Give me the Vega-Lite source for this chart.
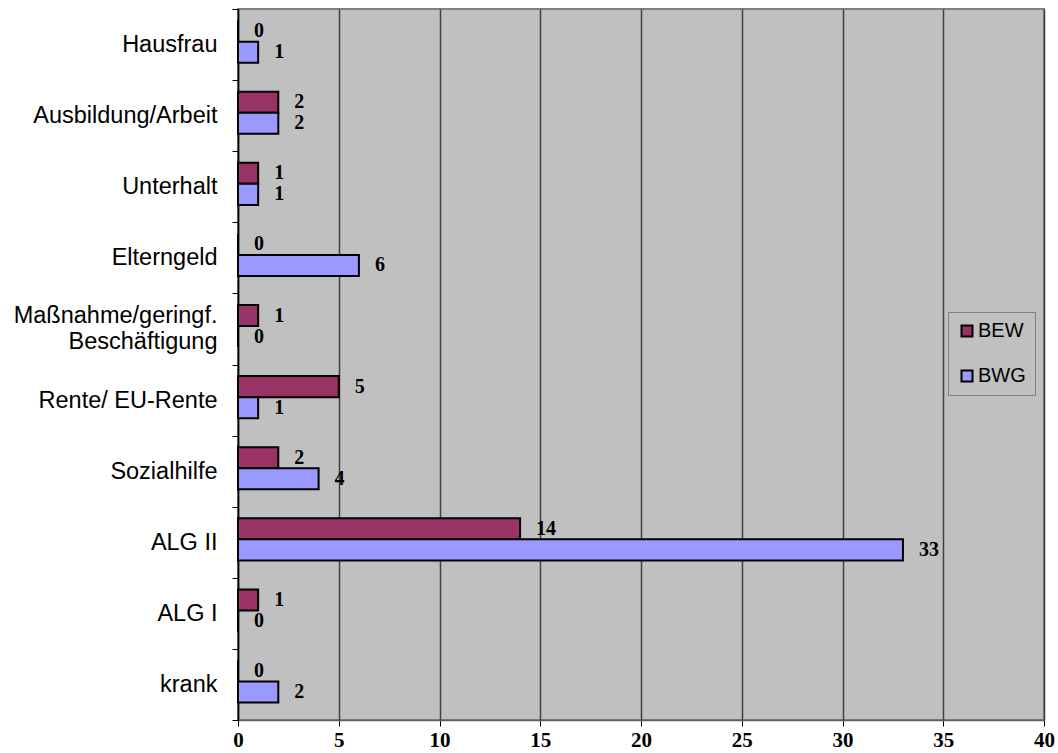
{
  "$schema": "https://vega.github.io/schema/vega-lite/v6.json",
  "width": 806,
  "height": 711,
  "autosize": {"type": "none"},
  "padding": {"left": 238, "top": 9, "right": 14, "bottom": 33},
  "background": "white",
  "config": {
    "view": {"fill": "#C0C0C0", "stroke": "#808080", "strokeWidth": 2}
  },
  "data": {
    "values": [
      {"category": "Hausfrau", "series": "BEW", "value": 0},
      {"category": "Hausfrau", "series": "BWG", "value": 1},
      {"category": "Ausbildung/Arbeit", "series": "BEW", "value": 2},
      {"category": "Ausbildung/Arbeit", "series": "BWG", "value": 2},
      {"category": "Unterhalt", "series": "BEW", "value": 1},
      {"category": "Unterhalt", "series": "BWG", "value": 1},
      {"category": "Elterngeld", "series": "BEW", "value": 0},
      {"category": "Elterngeld", "series": "BWG", "value": 6},
      {"category": "Maßnahme/geringf. Beschäftigung", "series": "BEW", "value": 1},
      {"category": "Maßnahme/geringf. Beschäftigung", "series": "BWG", "value": 0},
      {"category": "Rente/ EU-Rente", "series": "BEW", "value": 5},
      {"category": "Rente/ EU-Rente", "series": "BWG", "value": 1},
      {"category": "Sozialhilfe", "series": "BEW", "value": 2},
      {"category": "Sozialhilfe", "series": "BWG", "value": 4},
      {"category": "ALG II", "series": "BEW", "value": 14},
      {"category": "ALG II", "series": "BWG", "value": 33},
      {"category": "ALG I", "series": "BEW", "value": 1},
      {"category": "ALG I", "series": "BWG", "value": 0},
      {"category": "krank", "series": "BEW", "value": 0},
      {"category": "krank", "series": "BWG", "value": 2}
    ]
  },
  "encoding": {
    "y": {
      "field": "category",
      "type": "nominal",
      "sort": null,
      "scale": {"paddingInner": 0, "paddingOuter": 0},
      "axis": {
        "title": null,
        "labelFont": "Liberation Sans",
        "labelFontSize": 23.5,
        "labelColor": "black",
        "labelPadding": 15,
        "labelLimit": 400,
        "labelLineHeight": 26,
        "labelExpr": "datum.value == 'Maßnahme/geringf. Beschäftigung' ? ['Maßnahme/geringf.', 'Beschäftigung\u00a0\u00a0\u00a0\u00a0'] : datum.label",
        "labelOffset": {
          "condition": {"test": "datum.value == 'Maßnahme/geringf. Beschäftigung'", "value": -13},
          "value": 0
        },
        "tickBand": "extent",
        "tickSize": 6,
        "tickColor": "black",
        "domainColor": "black",
        "domainWidth": 1.5,
        "grid": false
      }
    },
    "yOffset": {
      "field": "series",
      "type": "nominal",
      "sort": ["BEW", "BWG"],
      "scale": {"paddingInner": 0, "paddingOuter": 0.69, "align": 0.4}
    },
    "x": {
      "field": "value",
      "type": "quantitative",
      "scale": {"domain": [0, 40], "nice": false},
      "axis": {
        "title": null,
        "values": [0, 5, 10, 15, 20, 25, 30, 35, 40],
        "labelFont": "Liberation Serif",
        "labelFontWeight": "bold",
        "labelFontSize": 21,
        "labelColor": "black",
        "labelPadding": 3,
        "labelFlush": false,
        "grid": true,
        "gridColor": "#404040",
        "gridWidth": 1.5,
        "tickColor": "black",
        "tickSize": 6,
        "domainColor": "#606060",
        "domainWidth": 1.5
      }
    }
  },
  "layer": [
    {
      "mark": {"type": "bar", "stroke": "black", "strokeWidth": 2},
      "encoding": {
        "color": {
          "field": "series",
          "type": "nominal",
          "scale": {"domain": ["BEW", "BWG"], "range": ["#993366", "#9999FF"]},
          "legend": {
            "title": null,
            "orient": "none",
            "legendX": 710,
            "legendY": 303,
            "symbolType": "square",
            "symbolSize": 121,
            "symbolStrokeColor": "black",
            "symbolStrokeWidth": 2,
            "symbolOpacity": 1,
            "labelFont": "Liberation Sans",
            "labelFontSize": 20,
            "labelColor": "black",
            "labelOffset": 1,
            "strokeColor": "#808080",
            "fillColor": "#C0C0C0",
            "padding": 9,
            "rowPadding": 25
          }
        }
      }
    },
    {
      "mark": {
        "type": "text",
        "align": "left",
        "baseline": "middle",
        "dx": 16,
        "font": "Liberation Serif",
        "fontWeight": "bold",
        "fontSize": 20,
        "fill": "black"
      },
      "encoding": {
        "text": {"field": "value", "type": "quantitative"}
      }
    }
  ]
}
